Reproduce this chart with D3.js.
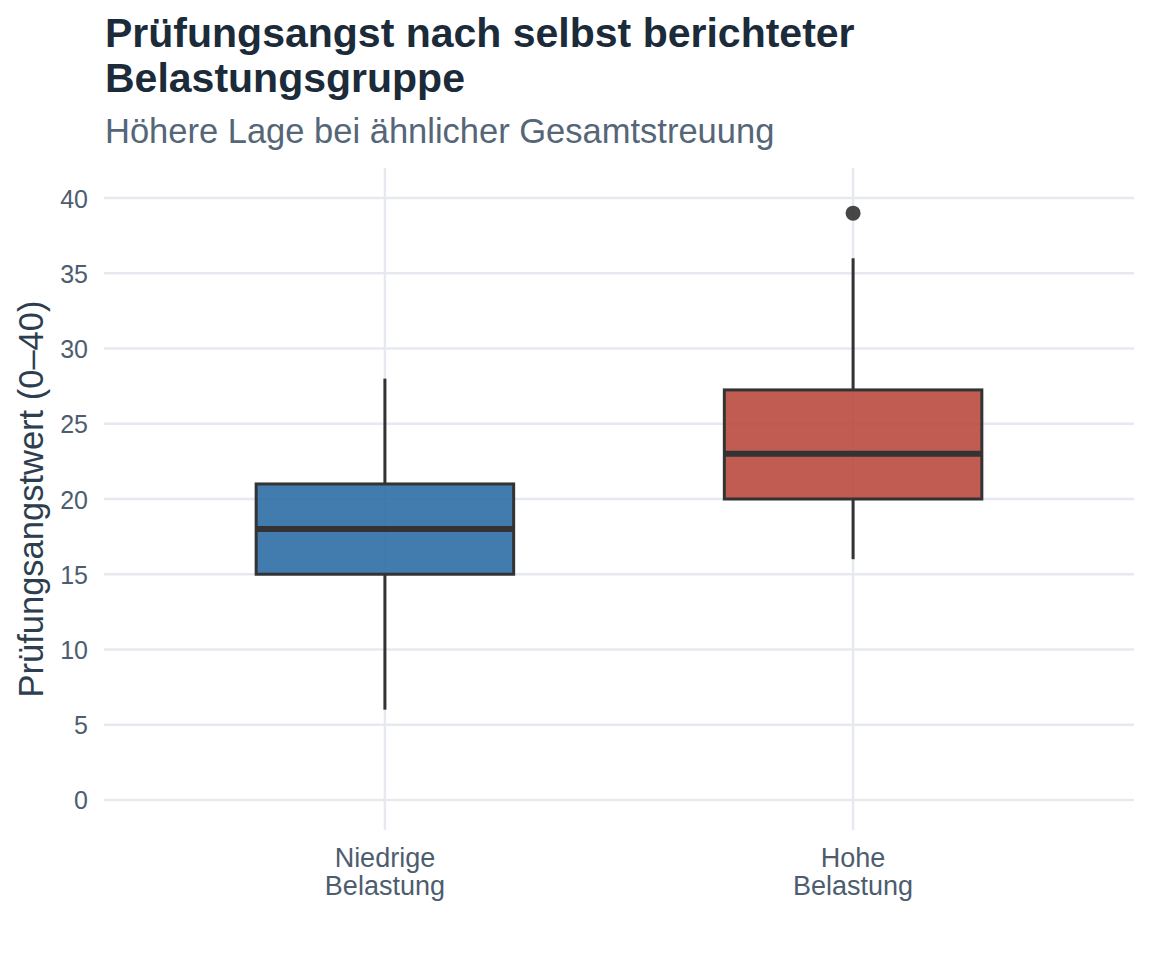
<!DOCTYPE html>
<html>
<head>
<meta charset="utf-8">
<script src="https://cdn.jsdelivr.net/npm/d3@7"></script>
<style>
  body { margin: 0; background: #fff; }
  text { font-family: "Liberation Sans", Arial, sans-serif; }
</style>
</head>
<body>
<div class="box"></div>
<script>
// group labels (two lines each) and box statistics
var groups = ["Niedrige Belastung", "Hohe Belastung"];
var groupLines = [["Niedrige", "Belastung"], ["Hohe", "Belastung"]];
var whiskerLow = [6, 16];
var q1 = [15, 20];
var median = [18, 23];
var q3 = [21, 27.25];
var whiskerHigh = [28, 36];
var outliers = [[], [39]];
var fills = ["#2e6da4", "#b94a3f"];
var yTicks = [0, 5, 10, 15, 20, 25, 30, 35, 40];

var width = 1152, height = 960;
var margin = { top: 168, right: 18, bottom: 130, left: 104 };

var svg = d3.create("svg")
    .attr("width", width)
    .attr("height", height)
    .attr("viewBox", [0, 0, width, height]);

// ggplot style: discrete expansion of 0.6 units on each side
var x = d3.scaleLinear([0.4, 2.6], [margin.left, width - margin.right]);
var y = d3.scaleLinear([-2, 42], [height - margin.bottom, margin.top]);

var boxW = x(1.55) - x(1);

// grid
var grid = svg.append("g").attr("stroke", "#e6eaf0").attr("stroke-width", 2.5);
grid.selectAll("line.h")
    .data(yTicks)
    .join("line")
    .attr("x1", margin.left).attr("x2", width - margin.right)
    .attr("y1", d => y(d)).attr("y2", d => y(d));
grid.selectAll("line.v")
    .data(groups)
    .join("line")
    .attr("x1", (d, i) => x(i + 1)).attr("x2", (d, i) => x(i + 1))
    .attr("y1", margin.top).attr("y2", height - margin.bottom);

// y axis labels
var yAxis = svg.append("g")
    .attr("transform", `translate(${margin.left - 16},0)`)
    .call(d3.axisLeft(y).tickValues(yTicks).tickSize(0).tickPadding(0));
yAxis.select(".domain").remove();
yAxis.selectAll("text")
    .attr("fill", "#4d5d70")
    .style("font-size", "25px")
    .attr("dy", "0.36em");

// x axis labels
var xLab = svg.append("g")
    .selectAll("text")
    .data(groupLines)
    .join("text")
    .attr("text-anchor", "middle")
    .attr("fill", "#4d5d70")
    .style("font-size", "27px")
    .attr("transform", (d, i) => `translate(${x(i + 1)},867)`);
xLab.selectAll("tspan")
    .data(d => d)
    .join("tspan")
    .attr("x", 0)
    .attr("dy", (d, j) => j === 0 ? 0 : 28)
    .text(d => d);

// boxes
var boxes = svg.append("g")
    .selectAll("g")
    .data(groups)
    .join("g")
    .attr("transform", (d, i) => `translate(${x(i + 1)},0)`);

boxes.append("line")
    .attr("stroke", "#333").attr("stroke-width", 3)
    .attr("y1", (d, i) => y(whiskerHigh[i])).attr("y2", (d, i) => y(q3[i]));
boxes.append("line")
    .attr("stroke", "#333").attr("stroke-width", 3)
    .attr("y1", (d, i) => y(q1[i])).attr("y2", (d, i) => y(whiskerLow[i]));

boxes.append("rect")
    .attr("x", -boxW / 2)
    .attr("width", boxW)
    .attr("y", (d, i) => y(q3[i]))
    .attr("height", (d, i) => y(q1[i]) - y(q3[i]))
    .attr("fill", (d, i) => fills[i])
    .attr("fill-opacity", 0.9)
    .attr("stroke", "#333")
    .attr("stroke-width", 3);

boxes.append("line")
    .attr("stroke", "#333").attr("stroke-width", 6)
    .attr("x1", -boxW / 2).attr("x2", boxW / 2)
    .attr("y1", (d, i) => y(median[i])).attr("y2", (d, i) => y(median[i]));

boxes.selectAll("circle")
    .data((d, i) => outliers[i])
    .join("circle")
    .attr("cy", d => y(d))
    .attr("r", 7.5)
    .attr("fill", "#333")
    .attr("fill-opacity", 0.9);

// y axis title
svg.append("text")
    .attr("transform", `translate(43,${(margin.top + height - margin.bottom) / 2}) rotate(-90)`)
    .attr("text-anchor", "middle")
    .attr("fill", "#2d3e50")
    .style("font-size", "34.5px")
    .text("Prüfungsangstwert (0–40)");

// titles
svg.append("text")
    .attr("x", 105).attr("y", 47)
    .attr("fill", "#1b2b3a")
    .style("font-size", "41px")
    .style("font-weight", "bold")
    .text("Prüfungsangst nach selbst berichteter");
svg.append("text")
    .attr("x", 105).attr("y", 92)
    .attr("fill", "#1b2b3a")
    .style("font-size", "41px")
    .style("font-weight", "bold")
    .text("Belastungsgruppe");
svg.append("text")
    .attr("x", 105).attr("y", 143)
    .attr("fill", "#556678")
    .style("font-size", "34.5px")
    .text("Höhere Lage bei ähnlicher Gesamtstreuung");

document.querySelector(".box").appendChild(svg.node());
</script>
</body>
</html>
